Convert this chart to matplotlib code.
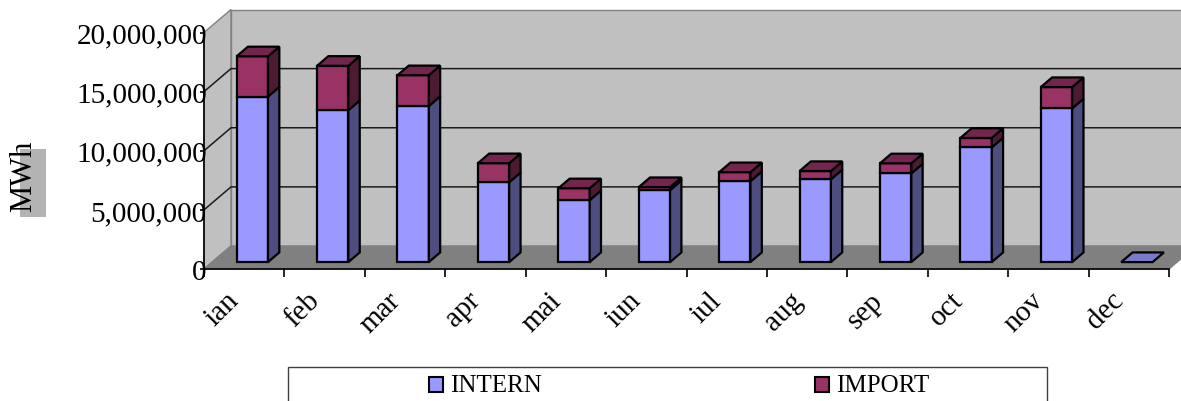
import matplotlib.pyplot as plt
from matplotlib.patches import Polygon, Rectangle
from matplotlib.transforms import ScaledTranslation
import numpy as np

months = ['ian', 'feb', 'mar', 'apr', 'mai', 'iun', 'iul', 'aug', 'sep', 'oct', 'nov', 'dec']
intern = [14.0e6, 12.85e6, 13.2e6, 6.76e6, 5.24e6, 6.09e6, 6.85e6, 7.0e6, 7.5e6, 9.7e6, 13.0e6, 0]
imports = [3.4e6, 3.75e6, 2.6e6, 1.6e6, 1.0e6, 0.25e6, 0.75e6, 0.7e6, 0.85e6, 0.8e6, 1.8e6, 0]
series = ['INTERN', 'IMPORT']
yticks = [0, 5e6, 10e6, 15e6, 20e6]

# colours: front, side, top
col_intern = ('#9999ff', '#4d4d80', '#7a7acc')
col_import = ('#993366', '#4d1a33', '#73264d')

W, H = 1181, 402
FONT = 'Liberation Serif'
fig = plt.figure(figsize=(W / 100, H / 100), dpi=100)
ax = fig.add_axes([204 / W, 1 - 270 / H, 965 / W, 236.5 / H])
n = len(months)
ymax = yticks[-1]
ax.set_xlim(0, n)
ax.set_ylim(0, ymax)

# depth offset of the 3d box in data units
DX = 27 / (965 / n)
DY = 23 / 236.5 * ymax

# walls and floor
ax.add_patch(Polygon([(DX, DY), (n + DX, DY), (n + DX, ymax + DY), (DX, ymax + DY)],
                     fc='#c0c0c0', ec='#808080', lw=1, clip_on=False, zorder=0))
ax.add_patch(Polygon([(0, 0), (DX, DY), (DX, ymax + DY), (0, ymax)],
                     fc='#c0c0c0', ec='#808080', lw=1, clip_on=False, zorder=0))
ax.add_patch(Polygon([(0, 0), (n, 0), (n + DX, DY), (DX, DY)],
                     fc='#808080', ec='#808080', lw=1, clip_on=False, zorder=0))
for v in yticks[1:-1]:
    ax.plot([0, DX, n + DX], [v, v + DY, v + DY], color='#1a1a1a', lw=1.1,
            clip_on=False, zorder=0.5)

# bars
BW = 0.39
D0, D1 = 0.30, 0.72
dd = D1 - D0
lw = 1.6
for i in range(n):
    xc = i + 0.5 + D0 * DX
    x1 = xc + BW / 2
    x0 = xc - BW / 2
    bottom = 0
    segs = [(intern[i], col_intern), (imports[i], col_import)]
    top_seg = 0
    for k, (h, c) in enumerate(segs):
        if h > 0:
            top_seg = k
    for k, (h, c) in enumerate(segs):
        b = bottom + D0 * DY
        t = b + h
        if h > 0:
            ax.bar(xc, h, bottom=b, width=BW, color=c[0], edgecolor='black', lw=lw,
                   clip_on=False, zorder=2)
            ax.add_patch(Polygon([(x1, b), (x1 + dd * DX, b + dd * DY),
                                  (x1 + dd * DX, t + dd * DY), (x1, t)],
                                 fc=c[1], ec='black', lw=lw, clip_on=False, zorder=2))
        if k == top_seg:
            ax.add_patch(Polygon([(x0, t), (x1, t), (x1 + dd * DX, t + dd * DY),
                                  (x0 + dd * DX, t + dd * DY)],
                                 fc=c[2], ec='black', lw=lw, clip_on=False, zorder=2))
        bottom += h

# axes
for s in ['top', 'right']:
    ax.spines[s].set_visible(False)
ax.spines['bottom'].set_linewidth(1.2)
ax.spines['left'].set_linewidth(1.2)
ax.spines['bottom'].set_zorder(1)
ax.set_xticks(np.arange(n + 1))
ax.set_xticklabels([])
ax.set_xticks(np.arange(n) + 0.5, minor=True)
ax.set_xticklabels(months, minor=True, rotation=45, ha='right', va='baseline',
                   rotation_mode='anchor', family=FONT, fontsize=21)
ax.tick_params(axis='x', which='major', length=6, width=1.2, direction='out')
ax.tick_params(axis='x', which='minor', length=0, pad=23)
shift = ScaledTranslation(-4 / 100, 0, fig.dpi_scale_trans)
for lbl in ax.get_xticklabels(minor=True):
    lbl.set_transform(lbl.get_transform() + shift)
ax.set_yticks(yticks)
ax.set_yticklabels([f'{int(v):,}' for v in yticks], family=FONT, fontsize=21)
ax.tick_params(axis='y', length=3, width=1.2, pad=-5)
ax.patch.set_visible(False)

# y label with grey box
fig.patches.append(Rectangle((20 / W, 1 - 218 / H), 26 / W, 68 / H,
                             transform=fig.transFigure, fc='#b3b3b3', ec='none'))
fig.text(24 / W, 1 - 176.5 / H, 'MWh', rotation=90, ha='center', va='center',
         family=FONT, fontsize=22)

# legend
fig.patches.append(Rectangle((288 / W, -0.02), (1047 - 288) / W, 1 - 368 / H + 0.02,
                             transform=fig.transFigure, fc='white', ec='#404040', lw=1))
leg_x = [429, 815]
for x, name, c in zip(leg_x, series, [col_intern, col_import]):
    fig.patches.append(Rectangle((x / W, 1 - 393 / H), 14 / W, 15 / H,
                                 transform=fig.transFigure, fc=c[0], ec='black', lw=1.5))
    fig.text((x + 21) / W, 1 - 386 / H, name, ha='left', va='center',
             family=FONT, fontsize=18)

fig.savefig('out.png', dpi=100)
